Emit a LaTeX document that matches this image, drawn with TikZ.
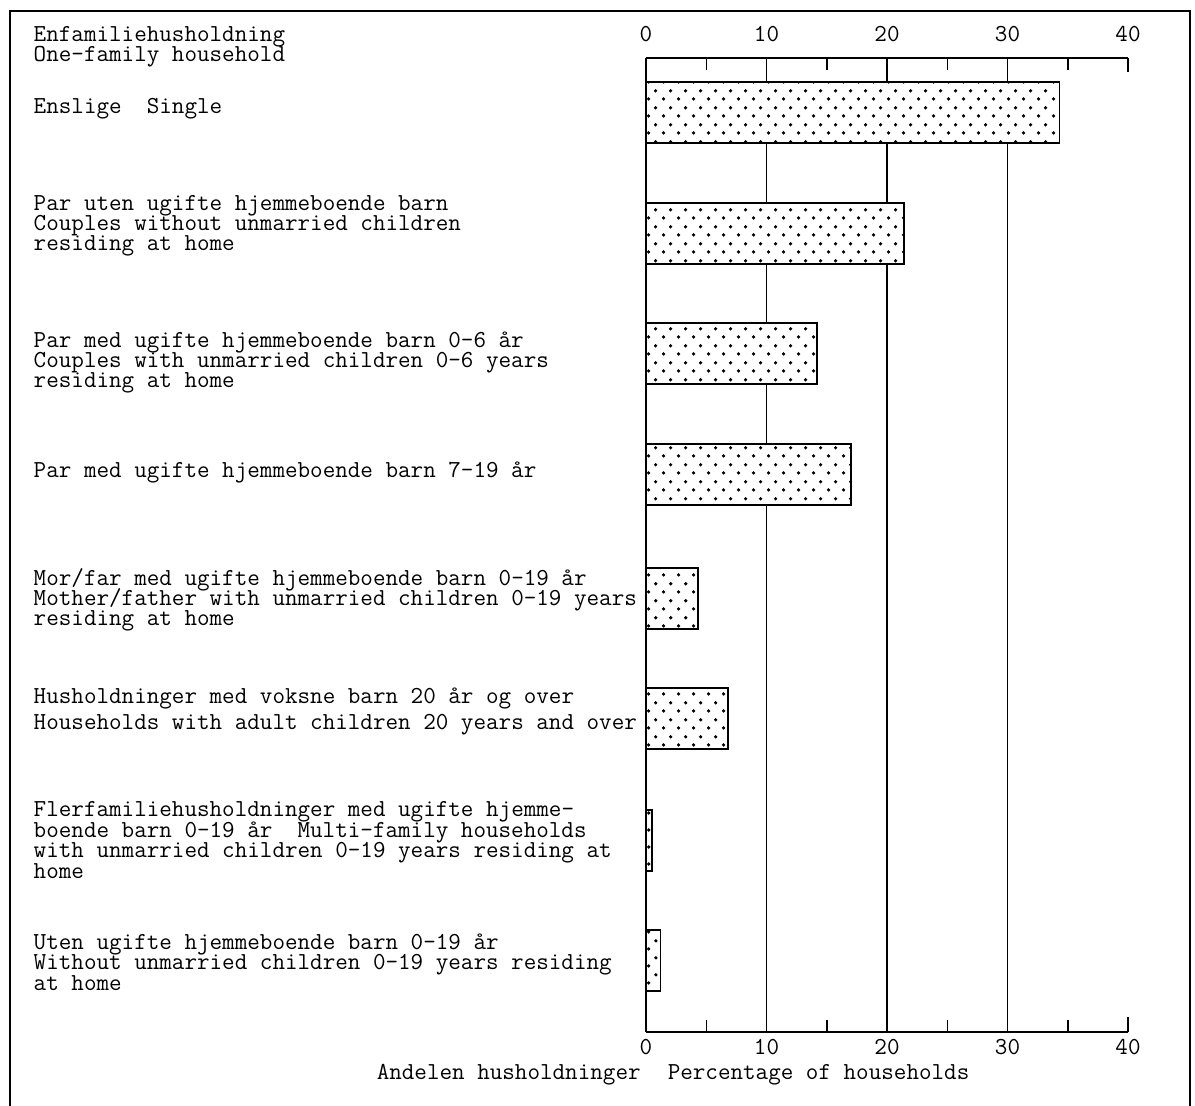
\documentclass[tikz,border=0pt]{standalone}
\usetikzlibrary{patterns, positioning}

% sparse staggered dots for the bars
\pgfdeclarepatternformonly{hhdots}{\pgfpointorigin}{\pgfqpoint{7.5pt}{8.5pt}}{\pgfqpoint{7.5pt}{8.5pt}}{%
  \pgfpathcircle{\pgfqpoint{1.875pt}{2.125pt}}{0.95pt}%
  \pgfpathcircle{\pgfqpoint{5.625pt}{6.375pt}}{0.95pt}%
  \pgfusepath{fill}}
\newcommand{\lblfont}{\ttfamily\fontsize{12.2}{10.2}\selectfont\lineskiplimit=-100pt\relax}

\begin{document}
\begin{tikzpicture}[x=0.5pt,y=-0.5pt,line width=0.75pt,
            lbl/.style={anchor=base west,align=left,inner sep=0pt,font=\lblfont},
            num/.style={anchor=base,inner sep=0pt,font=\lblfont},
            bar/.style={draw,fill=white,postaction={pattern=hhdots}}]
  \useasboundingbox (0,0) rectangle (1195,1106);
  \draw[line width=1.3pt] (10,1106) -- (10,11) -- (1190,11) -- (1190,1106);

  % axes, ticks and grid
  \draw (646,58) -- (1128,58) (646,1032) -- (1128,1032);
  \foreach \v in {5,15,25,35}
    \draw (646+12.05*\v,58) -- ++(0,12) (646+12.05*\v,1032) -- ++(0,-12);
  \draw (1128,58) -- ++(0,14) (1128,1032) -- ++(0,-15);
  \foreach \v in {10,20,30}
    \draw (646+12.05*\v,58) -- (646+12.05*\v,1032);
  \foreach \v in {0,10,20,30,40} {
    \node[num] (top\v) at (646+12.05*\v,42) {\v};
    \node[num] (bot\v) at (646+12.05*\v,1054) {\v};
  }

  % bars
  \foreach \val/\yy in {34.3/82,21.4/203,14.2/323,17.0/444,4.3/568,6.8/688,0.5/810,1.2/930}
    \draw[bar] (646,\yy) rectangle (646+12.05*\val,\yy+61);
  \draw (646,58) -- (646,1032);

  % labels (placed at the baseline of their last line)
  \node[lbl] (hdr)    at (33,62)  {Enfamiliehusholdning\\One-family household};
  \node[lbl] (single) at (33,114) {Enslige\ \ Single};
  \node[lbl] (nokid)  at (33,251) {Par uten ugifte hjemmeboende barn\\Couples without unmarried children\\residing at home};
  \node[lbl] (kid06)  at (33,388) {Par med ugifte hjemmeboende barn 0-6 år\\Couples with unmarried children 0-6 years\\residing at home};
  \node[lbl] (kid719) at (33,478) {Par med ugifte hjemmeboende barn 7-19 år};
  \node[lbl] (lone)   at (33,626) {Mor/far med ugifte hjemmeboende barn 0-19 år\\Mother/father with unmarried children 0-19 years\\residing at home};
  \node[lbl] (adult)  at (33,730) {Husholdninger med voksne barn 20 år og over\\[3pt]Households with adult children 20 years and over};
  \node[lbl] (multi)  at (33,878) {Flerfamiliehusholdninger med ugifte hjemme-\\boende barn 0-19 år\ \ Multi-family households\\with unmarried children 0-19 years residing at\\home};
  \node[lbl] (other)  at (33,990) {Uten ugifte hjemmeboende barn 0-19 år\\Without unmarried children 0-19 years residing\\at home};

  \node[lbl] (andel) at (376,1079) {Andelen husholdninger};
  \node[lbl] (pct)   at (667,1079) {Percentage of households};
\end{tikzpicture}
\end{document}
